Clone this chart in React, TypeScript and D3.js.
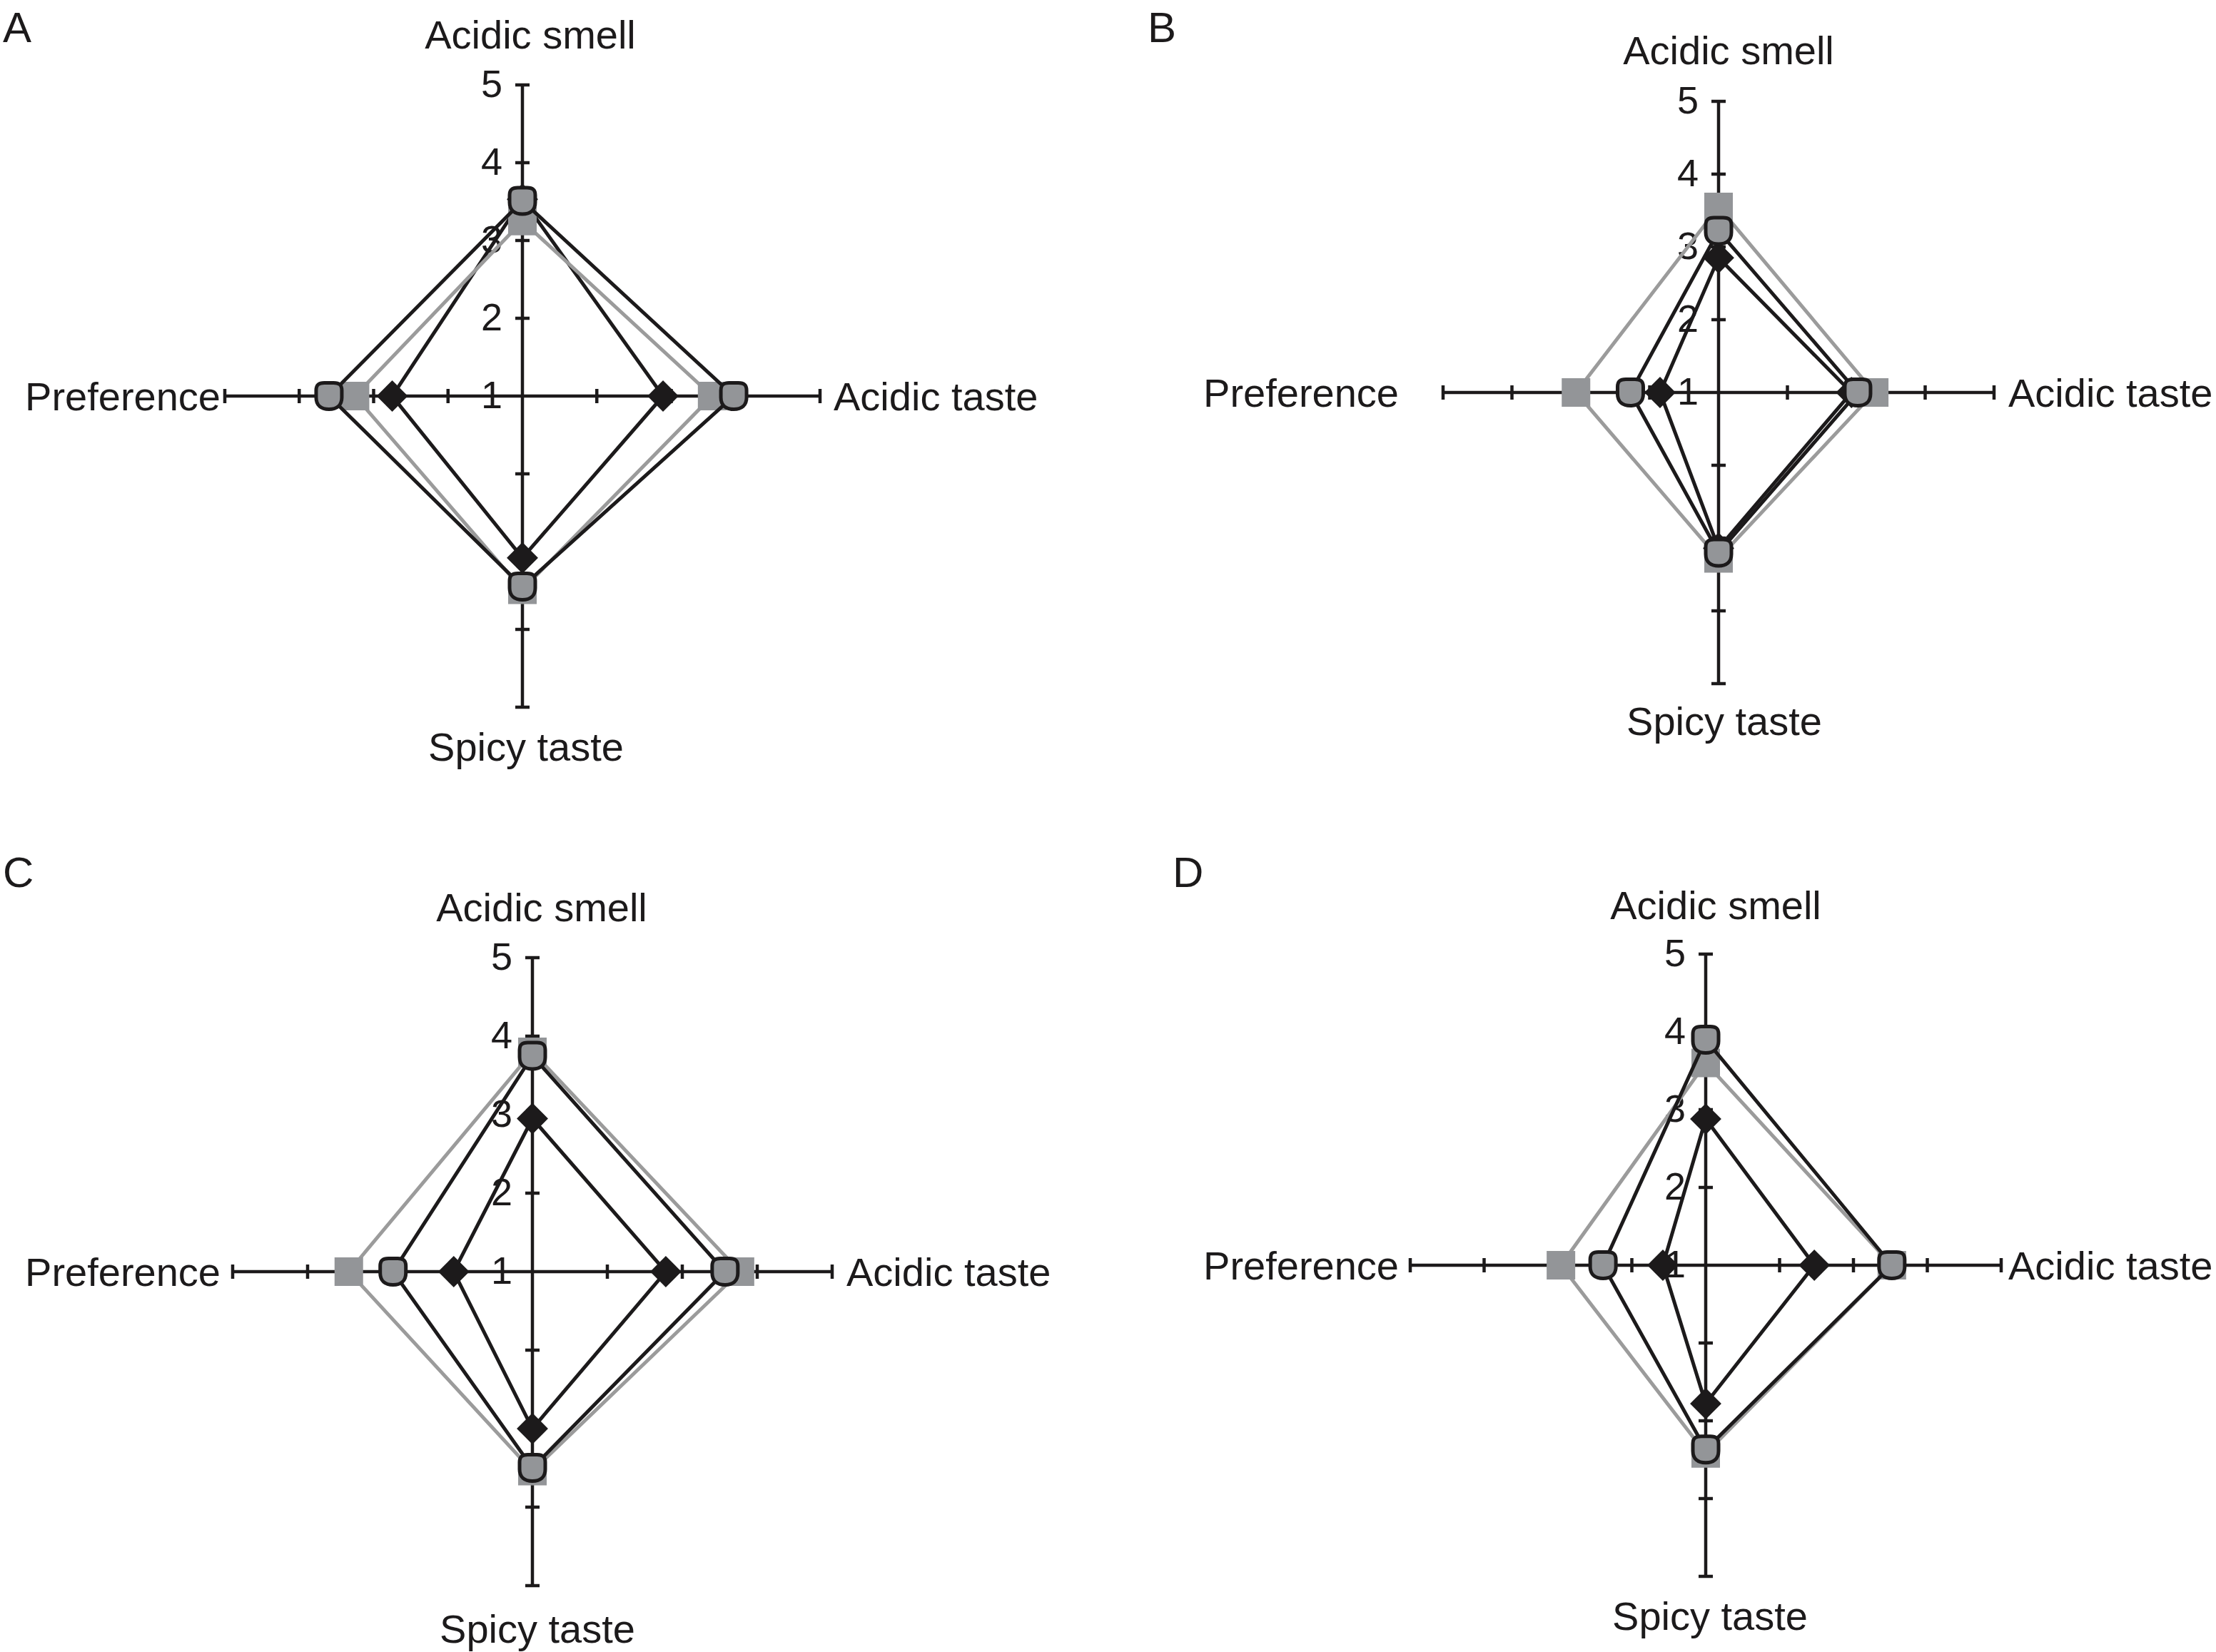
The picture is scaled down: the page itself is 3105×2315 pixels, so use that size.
import React from "react";
import * as d3 from "d3";

// radar axes, clockwise from the top
const axes = ["Acidic smell", "Acidic taste", "Spicy taste", "Preference"];
const tickValues = [1, 2, 3, 4, 5];
const panelNames = ["A", "B", "C", "D"];

// values per axis, same order as `axes`
const diamondA = [3.53, 2.89, 3.08, 2.75];
const squareA = [3.25, 3.55, 3.49, 3.25];
const circleA = [3.51, 3.84, 3.45, 3.6];

const diamondB = [2.85, 2.93, 3.14, 1.85];
const squareB = [3.55, 3.26, 3.28, 3.07];
const circleB = [3.22, 3.02, 3.2, 2.28];

const diamondC = [2.95, 2.78, 3.0, 2.05];
const squareC = [3.8, 3.77, 3.54, 3.45];
const circleC = [3.75, 3.57, 3.5, 2.86];

const diamondD = [2.88, 2.47, 2.78, 1.58];
const squareD = [3.6, 3.52, 3.42, 2.96];
const circleD = [3.9, 3.52, 3.37, 2.39];

const seriesByPanel = [
  { diamond: diamondA, square: squareA, circle: circleA },
  { diamond: diamondB, square: squareB, circle: circleB },
  { diamond: diamondC, square: squareC, circle: circleC },
  { diamond: diamondD, square: squareD, circle: circleD },
];

// where each panel sits on the page
const layouts = [
  { cx: 732, cy: 555, rx: 417, ry: 436, letter: [4, 59], top: [743, 68], bottom: [737, 1066], left: 309, right: 1168 },
  { cx: 2408, cy: 550, rx: 386, ry: 408, letter: [1608, 59], top: [2422, 90], bottom: [2416, 1030], left: 1960, right: 2814 },
  { cx: 746, cy: 1782, rx: 420, ry: 440, letter: [4, 1243], top: [759, 1291], bottom: [753, 2302], left: 309, right: 1186 },
  { cx: 2390, cy: 1773, rx: 414, ry: 436, letter: [1643, 1243], top: [2404, 1288], bottom: [2396, 2284], left: 1960, right: 2814 },
];

const BLACK = "#1c1a1b";
const GRAY_LINE = "#9b9b9b";
const GRAY_FILL = "#939598";
const FONT = "'Liberation Sans', Arial, Helvetica, sans-serif";

const shieldPath =
  "M-18,-8 C-18,-16.5 -13.5,-18.5 -6.5,-18.5 L6.5,-18.5 C13.5,-18.5 18,-16.5 18,-8 L18,2 C18,13 11,18.5 0,18.5 C-11,18.5 -18,13 -18,2 Z";

const diamondPath = d3.symbol(d3.symbolSquare, 31 * 31)();
const squarePath = d3.symbol(d3.symbolSquare, 40 * 40)();

const Panel = ({ idx }: { idx: number }) => {
  const L = layouts[idx];
  const S = seriesByPanel[idx];
  const rX = d3.scaleLinear().domain([1, 5]).range([0, L.rx]);
  const rY = d3.scaleLinear().domain([1, 5]).range([0, L.ry]);
  const angle = d3.scaleLinear().domain([0, axes.length]).range([0, 2 * Math.PI]);

  const pt = (v: number, i: number): [number, number] => {
    const a = angle(i);
    return [Math.sin(a) * rX(v), -Math.cos(a) * rY(v)];
  };
  const line = d3
    .line<number>()
    .x((v, i) => pt(v, i)[0])
    .y((v, i) => pt(v, i)[1])
    .curve(d3.curveLinearClosed);

  const series = [
    { key: "diamond", values: S.diamond, stroke: BLACK },
    { key: "square", values: S.square, stroke: GRAY_LINE },
    { key: "circle", values: S.circle, stroke: BLACK },
  ];

  return (
    <g>
      <text x={L.letter[0]} y={L.letter[1]} fontSize={60} fill={BLACK}>
        {panelNames[idx]}
      </text>
      <g transform={`translate(${L.cx},${L.cy})`}>
        {axes.map((name, i) => {
          const end = pt(5, i);
          const a = angle(i);
          return (
            <g key={name}>
              <line x1={0} y1={0} x2={end[0]} y2={end[1]} stroke={BLACK} strokeWidth={4.5} />
              {tickValues.slice(1).map((t) => {
                const p = pt(t, i);
                const nx = Math.cos(a) * 10;
                const ny = Math.sin(a) * 10;
                return (
                  <line
                    key={t}
                    x1={p[0] - nx}
                    y1={p[1] - ny}
                    x2={p[0] + nx}
                    y2={p[1] + ny}
                    stroke={BLACK}
                    strokeWidth={4.5}
                  />
                );
              })}
            </g>
          );
        })}
        {tickValues.map((t) => (
          <text key={t} x={-28} y={-rY(t) + 17} textAnchor="end" fontSize={54} fill={BLACK}>
            {t}
          </text>
        ))}
        {series.map((s) => (
          <g key={s.key}>
            <path d={line(s.values) || ""} fill="none" stroke={s.stroke} strokeWidth={5} strokeLinejoin="miter" />
            {s.values.map((v, i) => {
              const [x, y] = pt(v, i);
              if (s.key === "diamond")
                return <path key={i} d={diamondPath || ""} transform={`translate(${x},${y}) rotate(45)`} fill={BLACK} />;
              if (s.key === "square")
                return <path key={i} d={squarePath || ""} transform={`translate(${x},${y})`} fill={GRAY_FILL} />;
              return (
                <path
                  key={i}
                  d={shieldPath}
                  transform={`translate(${x},${y})`}
                  fill={GRAY_FILL}
                  stroke={BLACK}
                  strokeWidth={5}
                />
              );
            })}
          </g>
        ))}
      </g>
      <text x={L.top[0]} y={L.top[1]} textAnchor="middle" fontSize={56} fill={BLACK}>
        {axes[0]}
      </text>
      <text x={L.right} y={L.cy + 20} textAnchor="start" fontSize={56} fill={BLACK}>
        {axes[1]}
      </text>
      <text x={L.bottom[0]} y={L.bottom[1]} textAnchor="middle" fontSize={56} fill={BLACK}>
        {axes[2]}
      </text>
      <text x={L.left} y={L.cy + 20} textAnchor="end" fontSize={56} fill={BLACK}>
        {axes[3]}
      </text>
    </g>
  );
};

export default function App() {
  return (
    <svg
      width={3105}
      height={2315}
      style={{ position: "absolute", left: 0, top: 0, background: "#fff", fontFamily: FONT }}
    >
      <rect width={3105} height={2315} fill="#fff" />
      {panelNames.map((_, i) => (
        <Panel key={i} idx={i} />
      ))}
    </svg>
  );
}
